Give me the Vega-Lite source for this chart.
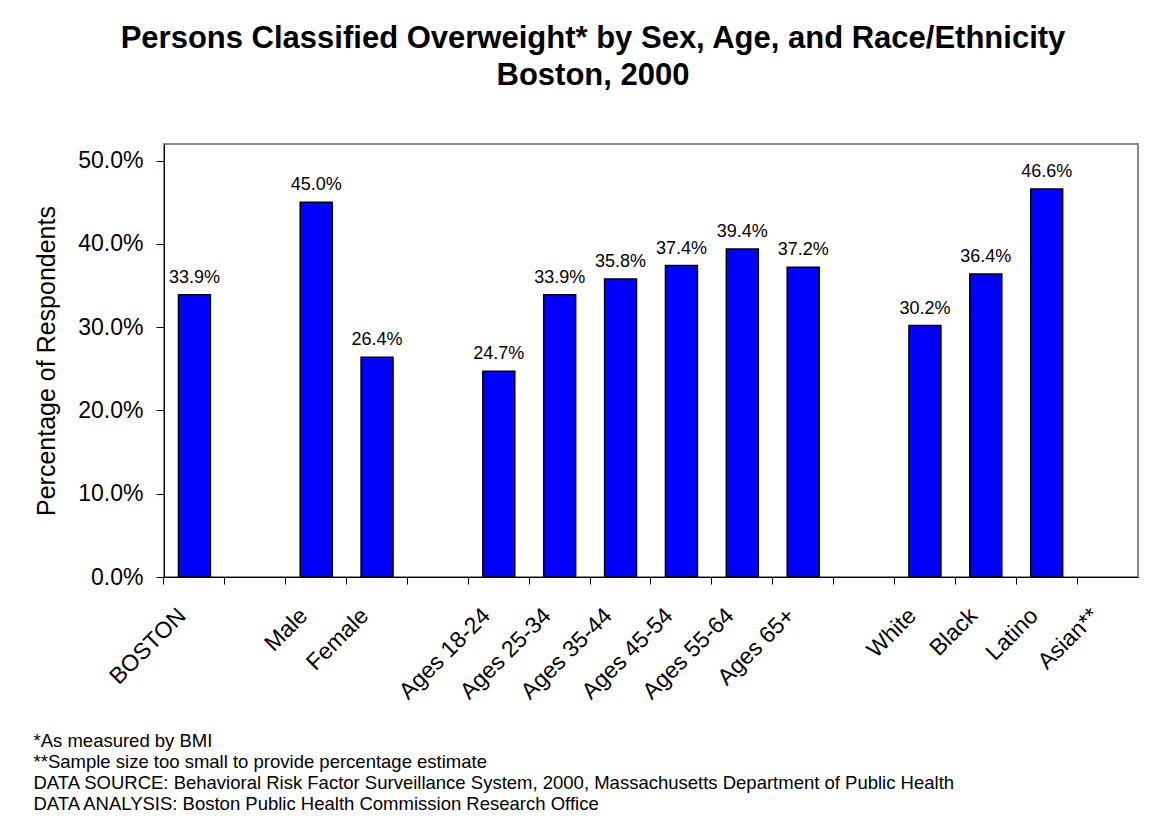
{
  "$schema": "https://vega.github.io/schema/vega-lite/v6.json",
  "width": 974,
  "height": 433,
  "autosize": {"type": "none"},
  "padding": {"left": 164, "top": 144, "right": 16, "bottom": 250},
  "background": "white",
  "title": {
    "text": ["Persons Classified Overweight* by Sex, Age, and Race/Ethnicity", "Boston, 2000"],
    "font": "Liberation Sans",
    "fontSize": 31,
    "fontWeight": "bold",
    "color": "black",
    "anchor": "middle",
    "dx": -58,
    "offset": 52,
    "lineHeight": 37
  },
  "config": {
    "font": "Liberation Sans",
    "view": {"stroke": "#8c8c8c", "strokeWidth": 2}
  },
  "data": {
    "values": [
      {"group": "BOSTON", "pct": 0.339},
      {"group": "Male", "pct": 0.450},
      {"group": "Female", "pct": 0.264},
      {"group": "Ages 18-24", "pct": 0.247},
      {"group": "Ages 25-34", "pct": 0.339},
      {"group": "Ages 35-44", "pct": 0.358},
      {"group": "Ages 45-54", "pct": 0.374},
      {"group": "Ages 55-64", "pct": 0.394},
      {"group": "Ages 65+", "pct": 0.372},
      {"group": "White", "pct": 0.302},
      {"group": "Black", "pct": 0.364},
      {"group": "Latino", "pct": 0.466}
    ]
  },
  "encoding": {
    "x": {
      "field": "group",
      "type": "nominal",
      "scale": {
        "domain": ["BOSTON", "gap1", "Male", "Female", "gap2", "Ages 18-24", "Ages 25-34", "Ages 35-44", "Ages 45-54", "Ages 55-64", "Ages 65+", "gap3", "White", "Black", "Latino", "Asian**"],
        "paddingInner": 0.475,
        "paddingOuter": 0.2375
      },
      "axis": {
        "bandPosition": -0.4524,
        "labelOffset": -20,
        "labelAngle": -45,
        "labelFontSize": 23,
        "labelColor": "black",
        "labelOverlap": false,
        "labelPadding": 20,
        "labelExpr": "indexof(datum.value, 'gap') == 0 ? '' : datum.value",
        "tickSize": 7,
        "tickColor": "black",
        "domainColor": "black",
        "grid": false,
        "title": ["*As measured by BMI", "**Sample size too small to provide percentage estimate", "DATA SOURCE: Behavioral Risk Factor Surveillance System, 2000, Massachusetts Department of Public Health", "DATA ANALYSIS: Boston Public Health Commission Research Office"],
        "titleFontSize": 18.5,
        "titleFontWeight": "normal",
        "titleColor": "black",
        "titleAnchor": "start",
        "titleAlign": "left",
        "titleBaseline": "top",
        "titleLineHeight": 21,
        "titleX": -131,
        "titleY": 154
      }
    },
    "y": {
      "field": "pct",
      "type": "quantitative",
      "scale": {"domain": [0, 0.52], "nice": false},
      "axis": {
        "values": [0, 0.1, 0.2, 0.3, 0.4, 0.5],
        "format": ".1%",
        "labelFontSize": 23,
        "labelColor": "black",
        "labelPadding": 13,
        "tickSize": 8,
        "tickColor": "black",
        "domainColor": "black",
        "grid": false,
        "title": "Percentage of Respondents",
        "titleFontSize": 25,
        "titleFontWeight": "normal",
        "titleColor": "black",
        "titlePadding": 18
      }
    }
  },
  "layer": [
    {
      "mark": {"type": "bar", "color": "#0000ff", "stroke": "black", "strokeWidth": 1.5}
    },
    {
      "mark": {"type": "text", "baseline": "bottom", "dy": -8, "fontSize": 18, "color": "black"},
      "encoding": {"text": {"field": "pct", "format": ".1%"}}
    }
  ]
}
